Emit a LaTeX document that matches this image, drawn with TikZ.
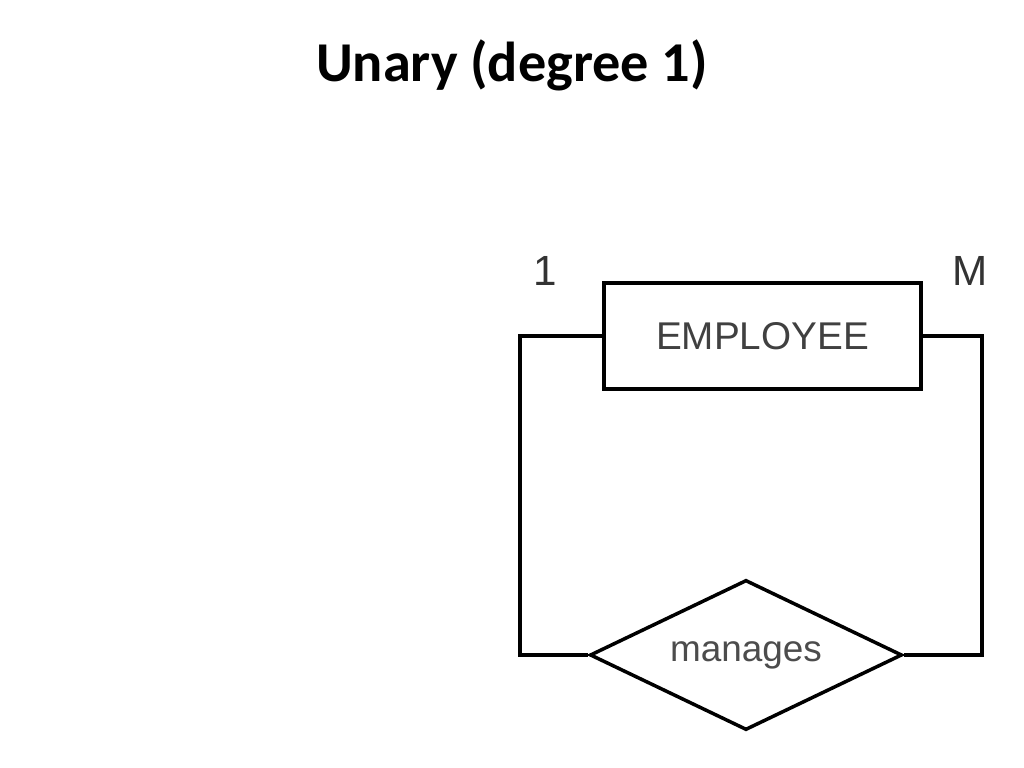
\documentclass[tikz,border=0pt]{standalone}
\usepackage{fontspec}
\setmainfont{Liberation Sans}
\newfontfamily\titlefont{Carlito}
\usetikzlibrary{shapes.geometric}
\tikzset{
  entity/.style={draw,line width=1.2pt,minimum width=3.17cm,minimum height=1.06cm,inner sep=0pt,font=\fontsize{11}{13}\selectfont,text=black!75},
  relship/.style={draw,diamond,aspect=2.08,line width=1pt,minimum width=3.12cm,minimum height=1.5cm,inner sep=0pt,font=\fontsize{10.5}{12}\selectfont,text=black!70},
  card/.style={font=\fontsize{12}{14}\selectfont,text=black!80}
}
\begin{document}
\begin{tikzpicture}[x=0.01cm,y=-0.01cm]
\useasboundingbox (0,0) rectangle (1024,768);
\node[font=\titlefont\bfseries\fontsize{16}{19}\selectfont] (title) at (512,65) {Unary (degree 1)};
\node[entity] (emp) at (762.5,336) {EMPLOYEE};
\node[relship] (mgr) at (746,655) {manages};
\node[card] (one) at (545,271) {1};
\node[card] (many) at (970,271) {M};
\draw[line width=1pt] (emp.west) -- ++(-82,0) |- (mgr.west);
\draw[line width=1pt] (emp.east) -- ++(59,0) |- (mgr.east);
\end{tikzpicture}
\end{document}
